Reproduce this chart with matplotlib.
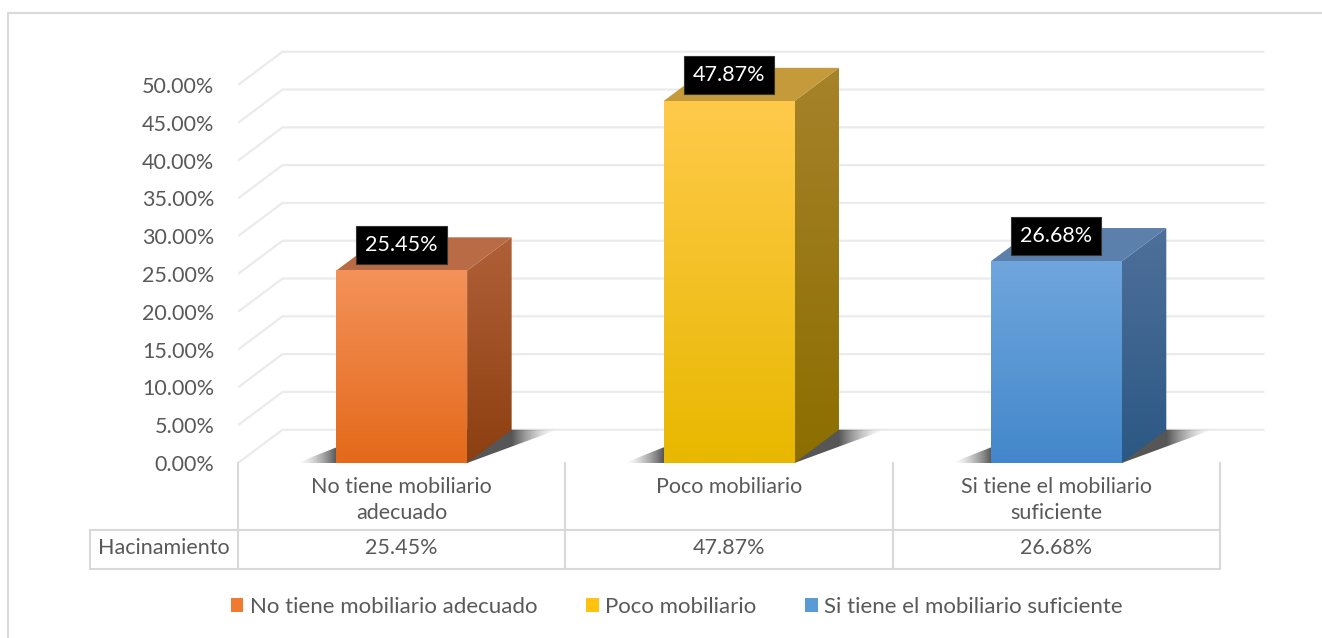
import numpy as np
import matplotlib.pyplot as plt
from matplotlib.patches import Polygon, Patch
from matplotlib.colors import to_rgb

# === DATA ===
categories = ["No tiene mobiliario adecuado", "Poco mobiliario", "Si tiene el mobiliario suficiente"]
table_labels = ["No tiene mobiliario\nadecuado", "Poco mobiliario", "Si tiene el mobiliario\nsuficiente"]
values = [25.45, 47.87, 26.68]
row_name = "Hacinamiento"
yticks = [0, 5, 10, 15, 20, 25, 30, 35, 40, 45, 50]

# face colours: (front top, front bottom), (side top, side bottom), top face
front_cols = [("#F4925A", "#E4691A"), ("#FFCA4A", "#E8B800"), ("#70A6DD", "#4387CB")]
side_cols = [("#B06038", "#8C3F10"), ("#A6822A", "#8C6E00"), ("#4E709A", "#2B5884")]
top_cols = ["#B96B45", "#C49A3A", "#5B80AB"]
legend_cols = ["#F07A30", "#FFC20E", "#5B9BD5"]

TEXT = "#595959"
GRID = "#ebebeb"
FONT = "Lato"
FS = 15.5

W, H = 1322, 638
BAR_W = 0.4
DX, DY = 0.136, 4.4  # oblique depth of the 3-D look (x units, percent)

fig = plt.figure(figsize=(W / 100, H / 100), dpi=100)
plt.rcParams["font.family"] = [FONT, "DejaVu Sans"]

# main plot area: x in category units, y in percent
px_per_unit = 327.33
px_per_pct = 7.56
ax_left, ax_right = 238, 1272
ax_bottom, ax_top = 463, 40
ax = fig.add_axes([ax_left / W, (H - ax_bottom) / H,
                   (ax_right - ax_left) / W, (ax_bottom - ax_top) / H])
xmin = -0.5
xmax = xmin + (ax_right - ax_left) / px_per_unit
ymax = (ax_bottom - ax_top) / px_per_pct
n = len(values)

# back wall / floor gridlines
for t in yticks:
    ax.plot([xmin, xmin + DX, n - 0.5 + DX], [t, t + DY, t + DY],
            color=GRID, lw=1.6, zorder=1, solid_capstyle="butt")


def grad_image(c_top, c_bot, npts=200):
    a = np.array(to_rgb(c_top))
    b = np.array(to_rgb(c_bot))
    s = np.linspace(0, 1, npts)[:, None]
    img = np.ones((npts, 1, 4))
    img[:, 0, :3] = a * (1 - s) + b * s
    return img


for i, v in enumerate(values):
    xl, xr = i - BAR_W / 2, i + BAR_W / 2

    # soft shadow on the floor
    sl = 0.12
    sr = 0.14
    shadow_poly = Polygon([(xl - sl, 0), (xr, 0), (xr + DX + sr, DY), (xl + DX, DY)],
                          closed=True, facecolor="none", edgecolor="none")
    ax.add_patch(shadow_poly)
    xs = np.linspace(xl - sl, xr + DX + sr, 300)
    alpha = np.ones_like(xs) * 0.85
    left = xs < xl
    alpha[left] = 0.85 * (xs[left] - (xl - sl)) / sl
    right = xs > xr + DX
    alpha[right] = 0.85 * (1 - (xs[right] - (xr + DX)) / sr)
    alpha = np.clip(alpha, 0, 1) ** 1.5
    simg = np.zeros((1, len(xs), 4))
    simg[0, :, :3] = 0.15
    simg[0, :, 3] = alpha
    im = ax.imshow(simg, extent=[xl - sl, xr + DX + sr, 0, DY], aspect="auto",
                   origin="lower", zorder=2, interpolation="bilinear")
    im.set_clip_path(shadow_poly)

    # side face
    side = Polygon([(xr, 0), (xr + DX, DY), (xr + DX, v + DY), (xr, v)],
                   closed=True, facecolor="none", edgecolor="none")
    ax.add_patch(side)
    im = ax.imshow(grad_image(*side_cols[i]), extent=[xr, xr + DX, 0, v + DY],
                   aspect="auto", origin="upper", zorder=3, interpolation="bilinear")
    im.set_clip_path(side)

    # top face
    ax.add_patch(Polygon([(xl, v), (xr, v), (xr + DX, v + DY), (xl + DX, v + DY)],
                         closed=True, facecolor=top_cols[i], edgecolor="none", zorder=3))

    # front face
    ax.imshow(grad_image(*front_cols[i]), extent=[xl, xr, 0, v],
              aspect="auto", origin="upper", zorder=4, interpolation="bilinear")

    # data label
    ax.text(i, v + 3.4, f"{v:.2f}%", ha="center", va="center", color="white",
            fontsize=FS, zorder=6,
            bbox=dict(boxstyle="square,pad=0.42", facecolor="black", edgecolor="#333333", lw=0.8))

ax.set_xlim(xmin, xmax)
ax.set_ylim(0, ymax)
ax.set_xticks([])
ax.set_yticks(yticks)
ax.set_yticklabels([f"{t:.2f}%" for t in yticks], color=TEXT, fontsize=FS)
ax.tick_params(axis="y", length=0, pad=17)
for s in ax.spines.values():
    s.set_visible(False)
ax.patch.set_alpha(0)

# === DATA TABLE ===
tb_left, tb_right = 90, 1220
tb_top, tb_mid, tb_bot = 463, 530, 569
tax = fig.add_axes([tb_left / W, (H - tb_bot) / H,
                    (tb_right - tb_left) / W, (tb_bot - tb_top) / H])
hdr = (238 - tb_left) / px_per_unit
tax.set_xlim(-0.5 - hdr, n - 0.5)
tax.set_ylim(0, tb_bot - tb_top)
tax.axis("off")
rows_h = tb_bot - tb_mid
LINE = "#d9d9d9"
tax.plot([-0.5 - hdr, n - 0.5], [rows_h, rows_h], color=LINE, lw=1.5, clip_on=False)
tax.plot([-0.5 - hdr, n - 0.5], [0, 0], color=LINE, lw=1.5, clip_on=False)
tax.plot([-0.5 - hdr, -0.5 - hdr], [0, rows_h], color=LINE, lw=1.5, clip_on=False)
for k in range(n + 1):
    tax.plot([k - 0.5, k - 0.5], [0, tb_bot - tb_top], color=LINE, lw=1.5, clip_on=False)
cat_top = tb_bot - tb_top - 14
for i, lab in enumerate(table_labels):
    tax.text(i, cat_top, lab, ha="center", va="top", color=TEXT,
             fontsize=FS, linespacing=1.4)
    tax.text(i, rows_h / 2 + 1, f"{values[i]:.2f}%", ha="center", va="center",
             color=TEXT, fontsize=FS)
tax.text(-0.5 - hdr / 2, rows_h / 2 + 1, row_name, ha="center", va="center",
         color=TEXT, fontsize=FS)

# === LEGEND ===
handles = [Patch(facecolor=c, edgecolor="none") for c in legend_cols]
fig.legend(handles, categories, loc="center", bbox_to_anchor=(677 / W, (H - 607) / H),
           ncol=3, frameon=False, fontsize=16, labelcolor=TEXT,
           handlelength=0.55, handleheight=0.55, handletextpad=0.3, columnspacing=2.2)

# outer chart border
border = fig.add_axes([0, 0, 1, 1], zorder=-1)
border.set_xlim(0, W)
border.set_ylim(H, 0)
border.axis("off")
border.plot([8, 8, W], [H, 13, 13], color="#d9d9d9", lw=1.5)

fig.savefig("out.png", dpi=100)
